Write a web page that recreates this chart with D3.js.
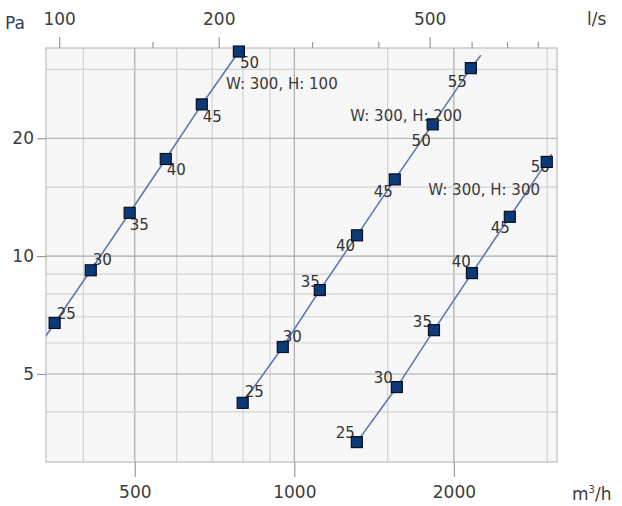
<!DOCTYPE html>
<html>
<head>
<meta charset="utf-8">
<script src="https://cdn.jsdelivr.net/npm/d3@7"></script>
<style>
  html, body { margin: 0; padding: 0; background: #fff; }
  svg { display: block; }
  text { font-family: "DejaVu Sans", "Noto Sans", sans-serif; }
</style>
</head>
<body>
<svg id="chart" width="622" height="506"></svg>
<script>
// Airflow (m³/h) vs. pressure drop (Pa) for three duct sizes; point labels are sound levels.
const seriesNames = ["W: 300, H: 100", "W: 300, H: 200", "W: 300, H: 300"];

const flow1 = [353, 413, 489, 572, 669, 786];
const pa1   = [6.75, 9.2, 12.9, 17.7, 24.4, 33.3];
const lbl1  = ["25", "30", "35", "40", "45", "50"];

const flow2 = [799, 951, 1117, 1313, 1547, 1824, 2153];
const pa2   = [4.22, 5.86, 8.19, 11.3, 15.7, 21.7, 30.2];
const lbl2  = ["25", "30", "35", "40", "45", "50", "55"];

const flow3 = [1312, 1561, 1834, 2163, 2550, 2994];
const pa3   = [3.35, 4.63, 6.47, 9.05, 12.6, 17.4];
const lbl3  = ["25", "30", "35", "40", "45", "50"];

// curve ends beyond the first / last marked point (flow, Pa)
const curveStart = [[330, 5.9], null, null];
const curveEnd   = [null, [2249, 32.6], [3060, 18.2]];

const xTicksMajor = [500, 1000, 2000];
const xGrid       = [400, 500, 600, 700, 800, 900, 1000, 1500, 2000, 3000];
const yTicksMajor = [5, 10, 20];
const yGrid       = [4, 5, 6, 7, 8, 9, 10, 15, 20, 30];
const lsTicksMajor = [100, 200, 500];
const lsTicksMinor = [150, 300, 400, 600, 700, 800];
const M3H_PER_LS = 3.6;

// label placement per point: [anchor, dx, dy]
const place1 = [["start",2,-9],["start",2,-10],["start",0,12],["start",1,11],["start",1,13],["start",1,11]];
const place2 = [["start",2,-11],["start",0,-10],["end",0,-8],["end",-2,11],["end",-2,13],["end",-2,17],["end",-4,14]];
const place3 = [["end",-2,-9],["end",-4,-9],["end",-2,-8],["end",-1,-11],["end",0,11],["end",3,5]];

const L = 46, R = 557, T = 48, B = 462;
const svg = d3.select("#chart");

const x = d3.scaleLog().domain([340, 3130]).range([L, R]);
const y = d3.scaleLog().domain([2.98, 34]).range([B, T]);
const xLs = d3.scaleLog().domain([340 / M3H_PER_LS, 3130 / M3H_PER_LS]).range([L, R]);

// plot background
svg.append("rect").attr("x", L).attr("y", T).attr("width", R - L).attr("height", B - T)
  .attr("fill", "#f7f7f7");

const grid = svg.append("g");
xGrid.forEach(v => {
  grid.append("line").attr("x1", x(v)).attr("x2", x(v)).attr("y1", T).attr("y2", B)
    .attr("stroke", xTicksMajor.includes(v) ? "#a9a9a9" : "#d2d2d2").attr("stroke-width", 1.2);
});
yGrid.forEach(v => {
  grid.append("line").attr("x1", L).attr("x2", R).attr("y1", y(v)).attr("y2", y(v))
    .attr("stroke", yTicksMajor.includes(v) ? "#a9a9a9" : "#d2d2d2").attr("stroke-width", 1.2);
});
svg.append("rect").attr("x", L).attr("y", T).attr("width", R - L).attr("height", B - T)
  .attr("fill", "none").attr("stroke", "#bdbdbd").attr("stroke-width", 1.2);

const tickColor = "#9a9a9a";
const textColor = "#3c3c3c";
const FONT = "'DejaVu Sans', sans-serif";

// bottom axis (m³/h)
const axisB = svg.append("g").attr("transform", `translate(0,${B})`)
  .call(d3.axisBottom(x).tickValues(xTicksMajor).tickFormat(d3.format("d")).tickSize(15).tickPadding(9));
// left axis (Pa)
const axisL = svg.append("g").attr("transform", `translate(${L},0)`)
  .call(d3.axisLeft(y).tickValues(yTicksMajor).tickFormat(d3.format("d")).tickSize(9).tickPadding(3));
// top axis (l/s)
const axisT = svg.append("g").attr("transform", `translate(0,${T})`)
  .call(d3.axisTop(xLs).tickValues(lsTicksMajor).tickFormat(d3.format("d")).tickSize(11).tickPadding(12));
const axisTMinor = svg.append("g").attr("transform", `translate(0,${T})`)
  .call(d3.axisTop(xLs).tickValues(lsTicksMinor).tickFormat("").tickSize(6));

[axisB, axisL, axisT, axisTMinor].forEach(g => {
  g.select(".domain").remove();
  g.selectAll(".tick line").attr("stroke", tickColor).attr("stroke-width", 1.2);
  g.selectAll(".tick text").attr("fill", textColor).attr("font-size", 17)
    .attr("font-family", FONT);
});

// unit labels
svg.append("text").attr("x", 5).attr("y", 29).attr("font-size", 17).attr("fill", "#2b3f66").text("Pa");
svg.append("text").attr("x", 587).attr("y", 25).attr("font-size", 17).attr("fill", textColor).text("l/s");
const unitX = svg.append("text").attr("x", 572).attr("y", 500).attr("font-size", 17).attr("fill", textColor);
unitX.append("tspan").text("m");
unitX.append("tspan").attr("font-size", 10).attr("dy", -7).text("3");
unitX.append("tspan").attr("dy", 7).text("/h");

// series
const clip = svg.append("clipPath").attr("id", "plotClip");
clip.append("rect").attr("x", L).attr("y", T).attr("width", R - L).attr("height", B - T);

const series = [
  { name: seriesNames[0], flow: flow1, pa: pa1, lbl: lbl1, place: place1 },
  { name: seriesNames[1], flow: flow2, pa: pa2, lbl: lbl2, place: place2 },
  { name: seriesNames[2], flow: flow3, pa: pa3, lbl: lbl3, place: place3 }
];

const line = d3.line().x(d => x(d[0])).y(d => y(d[1]));
const plot = svg.append("g");

series.forEach((s, i) => {
  let pts = s.flow.map((f, j) => [f, s.pa[j]]);
  if (curveStart[i]) pts = [curveStart[i]].concat(pts);
  if (curveEnd[i]) pts = pts.concat([curveEnd[i]]);
  plot.append("path").attr("d", line(pts)).attr("fill", "none")
    .attr("stroke", "#5a7bb0").attr("stroke-width", 1.6).attr("clip-path", "url(#plotClip)");
});

// point labels, then markers on top
series.forEach((s) => {
  plot.append("g").selectAll("text").data(s.flow).join("text")
    .attr("x", (d, j) => x(d) + s.place[j][1])
    .attr("y", (d, j) => y(s.pa[j]) + s.place[j][2])
    .attr("text-anchor", (d, j) => s.place[j][0])
    .attr("dominant-baseline", "central")
    .attr("font-size", 15).attr("fill", "#333")
    .text((d, j) => s.lbl[j]);
});
series.forEach((s) => {
  plot.append("g").selectAll("rect").data(s.flow).join("rect")
    .attr("x", (d) => x(d) - 5.5).attr("y", (d, j) => y(s.pa[j]) - 5.5)
    .attr("width", 11).attr("height", 11)
    .attr("fill", "#0c3a78").attr("stroke", "#0a0f1e").attr("stroke-width", 1.2);
});

// series captions
const captions = [[226, 84, "start"], [462, 116, "end"], [540, 190, "end"]];
series.forEach((s, i) => {
  plot.append("text").attr("x", captions[i][0]).attr("y", captions[i][1])
    .attr("text-anchor", captions[i][2]).attr("dominant-baseline", "central")
    .attr("font-size", 15).attr("fill", "#3a3a3a").text(s.name);
});
</script>
</body>
</html>
